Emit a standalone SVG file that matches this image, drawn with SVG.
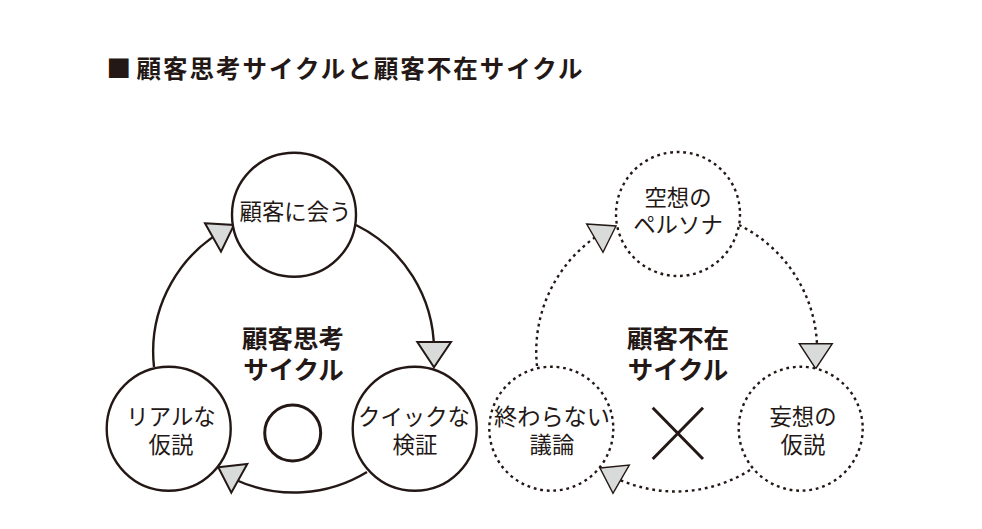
<svg xmlns="http://www.w3.org/2000/svg" width="982" height="529" viewBox="0 0 982 529">
<style>
text{font-family:"Noto Sans CJK JP","Noto Sans CJK SC",sans-serif;fill:#231815;text-anchor:middle}
.l{font-size:22.4px}
.w{font-size:23.200px}
.c{font-size:25.500px;font-weight:700}
.t{font-size:24.500px;font-weight:700;text-anchor:start;letter-spacing:2px}
.n{fill:#fff;stroke:#231815;stroke-width:2.4}
.d{fill:#fff;stroke:#231815;stroke-width:2.4;stroke-dasharray:2.8 3.8}
.a{fill:none;stroke:#231815;stroke-width:2.4}
.b{fill:none;stroke:#231815;stroke-width:2.4;stroke-dasharray:2.8 3.8}
.h{fill:#d9dbda;stroke:#231815;stroke-width:2;stroke-linejoin:miter}
.h2{fill:#d9dbda;stroke:#231815;stroke-width:1.4}
</style>
<g id="title"><text class="t" x="106.500" y="78">■</text><text class="t" x="136.500" y="78">顧客思考サイクルと顧客不在サイクル</text></g>
<g id="connectors">
<path class="a" d="M356 225A140 140 0 0 1 434 350"/>
<path class="a" d="M367 472A140 140 0 0 1 236 480"/>
<path class="a" d="M154 367A140 140 0 0 1 234 225"/>
<path class="b" d="M739 225A140 140 0 0 1 817 344"/>
<path class="b" d="M750 470A140 140 0 0 1 620 480"/>
<path class="b" d="M537 366A140 140 0 0 1 597 236"/>
<path class="h" d="M205 223.300L234 225L221 251.700Z"/>
<path class="h" d="M417.300 342L451 342L434 367.300Z"/>
<path class="h" d="M218.300 467.300L247.300 464L231.300 492.700Z"/>
<path class="h2" d="M586.700 224L616 226L603 252.300Z"/>
<path class="h2" d="M799.300 343.700L832.300 343.700L815.700 368.700Z"/>
<path class="h2" d="M600 468L629.300 465L613 493.300Z"/>
</g>
<g id="node-meet"><circle class="n" cx="294" cy="214.700" r="62"/><text class="l" x="295.500" y="220">顧客に会う</text></g>
<g id="node-quick"><circle class="n" cx="414.700" cy="428.700" r="62"/><text class="l" x="414" y="425">クイックな</text><text class="l" x="415" y="453">検証</text></g>
<g id="node-real"><circle class="n" cx="168.700" cy="428.700" r="62"/><text class="l" x="171" y="425">リアルな</text><text class="l" x="171" y="453">仮説</text></g>
<g id="node-persona"><circle class="d" cx="678" cy="214" r="62"/><text class="l" x="678" y="206">空想の</text><text class="l" x="678" y="233">ペルソナ</text></g>
<g id="node-delusion"><circle class="d" cx="800.700" cy="428.700" r="62"/><text class="l" x="803" y="425">妄想の</text><text class="l" x="803" y="453">仮説</text></g>
<g id="node-debate"><circle class="d" cx="551.300" cy="428.700" r="62"/><text class="w" x="552" y="425">終わらない</text><text class="l" x="552" y="453">議論</text></g>
<g id="label-good"><text class="c" x="293" y="348">顧客思考</text><text class="c" x="293.500" y="379">サイクル</text><circle cx="292.700" cy="433" r="28" fill="none" stroke="#231815" stroke-width="3"/></g>
<g id="label-bad"><text class="c" x="678" y="348">顧客不在</text><text class="c" x="678" y="379">サイクル</text><path d="M652.700 407.700L703 459M703 407.700L652.700 459" fill="none" stroke="#231815" stroke-width="3"/></g>
</svg>
